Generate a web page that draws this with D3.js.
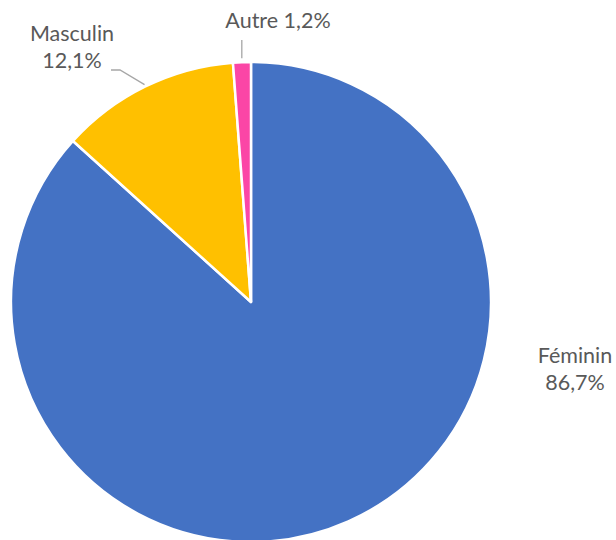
<!DOCTYPE html>
<html>
<head>
<meta charset="utf-8">
<script src="https://cdn.jsdelivr.net/npm/d3@7"></script>
<style>
  body { margin: 0; background: #fff; }
  text { font-family: Lato, "Open Sans", sans-serif; font-size: 21.5px; fill: #595959; }
</style>
</head>
<body>
<script>
var width = 616,
    height = 540;

var categories = ["Féminin", "Masculin", "Autre"];
var values = [86.7, 12.1, 1.2];
var colors = ["#4472C4", "#FFC000", "#FB46A6"];

var cx = 251, cy = 302, radius = 240;

// label placement (x, y of first line)
var labelPos = [
  { x: 575, y: 363, lines: 2 },
  { x: 72, y: 41, lines: 2 },
  { x: 278, y: 28, lines: 1 }
];

var fmt = function(v) { return String(v).replace(".", ",") + "%"; };

var svg = d3.select("body").append("svg")
    .attr("width", width)
    .attr("height", height);

var pie = d3.pie().sort(null).value(function(d) { return d; });
var arc = d3.arc().innerRadius(0).outerRadius(radius);
var arcs = pie(values);

var g = svg.append("g")
    .attr("transform", "translate(" + cx + "," + cy + ")");

g.selectAll("path")
    .data(arcs)
  .enter().append("path")
    .attr("d", arc)
    .attr("fill", function(d, i) { return colors[i]; })
    .attr("stroke", "#fff")
    .attr("stroke-width", 2.5)
    .attr("stroke-linejoin", "round");

// leader lines from the outer edge of the two small slices
var mid = function(d) { return (d.startAngle + d.endAngle) / 2; };
var onEdge = function(d, r) {
  var a = mid(d);
  return [cx + Math.sin(a) * r, cy - Math.cos(a) * r];
};

var p1 = onEdge(arcs[1], radius + 2);
svg.append("polyline")
    .attr("points", [p1, [120, 70], [111, 70]].join(" "))
    .attr("fill", "none")
    .attr("stroke", "#a6a6a6")
    .attr("stroke-width", 1.3);

var p2 = onEdge(arcs[2], radius + 4);
svg.append("line")
    .attr("x1", p2[0]).attr("y1", p2[1])
    .attr("x2", p2[0]).attr("y2", 40)
    .attr("stroke", "#a6a6a6")
    .attr("stroke-width", 1.3);

labelPos.forEach(function(p, i) {
  var t = svg.append("text")
      .attr("text-anchor", "middle")
      .attr("x", p.x)
      .attr("y", p.y);
  if (p.lines === 2) {
    t.append("tspan").attr("x", p.x).text(categories[i]);
    t.append("tspan").attr("x", p.x).attr("dy", 27).text(fmt(values[i]));
  } else {
    t.text(categories[i] + " " + fmt(values[i]));
  }
});
</script>
</body>
</html>
